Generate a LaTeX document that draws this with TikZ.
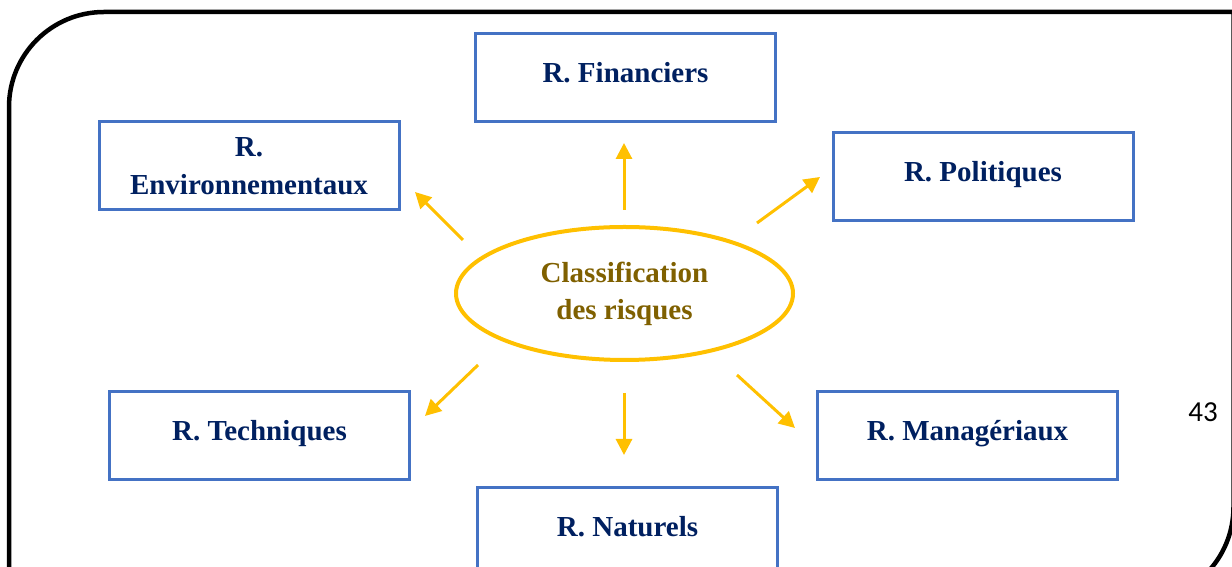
\documentclass[tikz,border=0pt]{standalone}
\usepackage{fontspec}
\setmainfont{Liberation Serif}
\newfontfamily\pagenumfont{Carlito}
\usetikzlibrary{shapes.geometric,arrows.meta}
\definecolor{boxblue}{HTML}{4472C4}
\definecolor{navytext}{HTML}{002060}
\definecolor{gold}{HTML}{FFC000}
\definecolor{goldtext}{HTML}{7F6000}
\begin{document}
\begin{tikzpicture}[x=1pt,y=1pt,
  riskbox/.style={draw=boxblue, line width=3pt, rectangle, minimum width=300pt,
    minimum height=88pt, inner sep=0pt, align=center, text=navytext,
    font=\fontsize{29}{38}\selectfont\bfseries},
  oneline/.style={text height=20pt, text depth=10pt},
  centre/.style={draw=gold, line width=4pt, ellipse, minimum width=337pt,
    minimum height=133pt, inner sep=0pt, align=center, text=goldtext,
    font=\fontsize{29}{37}\selectfont\bfseries},
  link/.style={draw=gold, line width=3pt, -{Triangle[length=16pt,width=16pt]}}]
\useasboundingbox (0,0) rectangle (1232,567);
\clip (0,0) rectangle (1232,567);

% outer frame, rounded at top left and bottom right
\draw[line width=4.5pt, line join=miter]
  (9,-30) -- (9,460) arc[start angle=180, end angle=90, radius=95]
  -- (1233.5,555) -- (1233.5,60) arc[start angle=0, end angle=-90, radius=95];

% central ellipse
\node[centre] (cls) at (624.5,273.5) {Classification\\des risques};

% risk categories
\node[riskbox, oneline] (fin) at (625.5,489.5) {R. Financiers};
\node[riskbox] (env) at (249,401) {R.\\Environnementaux};
\node[riskbox, oneline] (pol) at (983,390) {R. Politiques};
\node[riskbox, oneline] (tec) at (259.5,131.5) {R. Techniques};
\node[riskbox, oneline] (man) at (967.5,131.5) {R. Managériaux};
\node[riskbox, oneline] (nat) at (627.5,35.5) {R. Naturels};

% arrow ends
\coordinate (upA) at (624,357);   \coordinate (upB) at (624,424);
\coordinate (ulA) at (463,327);   \coordinate (ulB) at (415,375);
\coordinate (urA) at (757,344);   \coordinate (urB) at (820,390);
\coordinate (dlA) at (478,202);   \coordinate (dlB) at (425,151);
\coordinate (dnA) at (624,174);   \coordinate (dnB) at (624,112);
\coordinate (drA) at (737,192);   \coordinate (drB) at (795,139);

\draw[link] (upA) -- (upB);
\draw[link] (ulA) -- (ulB);
\draw[link] (urA) -- (urB);
\draw[link] (dlA) -- (dlB);
\draw[link] (dnA) -- (dnB);
\draw[link] (drA) -- (drB);

% page number
\node[font=\pagenumfont\fontsize{29}{34}\selectfont] (pg) at (1203,155) {43};
\end{tikzpicture}
\end{document}
